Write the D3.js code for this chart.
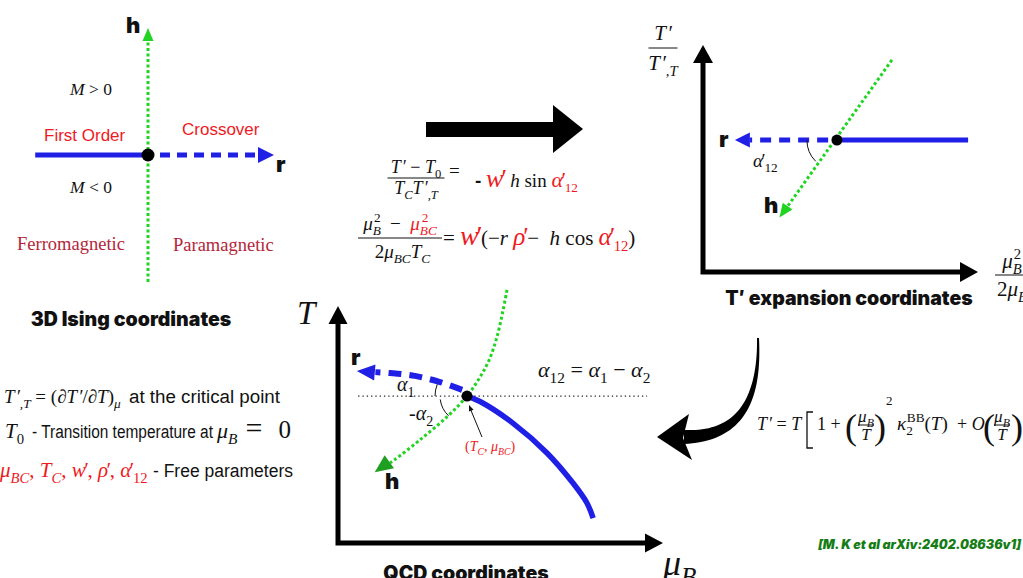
<!DOCTYPE html>
<html><head><meta charset="utf-8">
<script src="https://cdn.jsdelivr.net/npm/d3@7"></script>
<style>html,body{margin:0;padding:0;background:#fff;overflow:hidden} text{white-space:pre}</style>
</head><body><svg id="c" width="1023" height="578"></svg>
<script>
// ---------- 3D Ising plane (r, h) ----------
const isingFirstOrder = [[-0.94, 0], [0, 0]];
const isingCrossover = [[0.1, 0], [0.93, 0]];
const isingCrossoverTip = [1.05, 0];
const isingField = [[0, -1], [0, 0.92]];
const isingFieldTip = [0, 1.0];
const isingCritical = [0, 0];

// ---------- T' expansion plane ----------
const tpCritical = [0.487, 0.581];
const tpFirstOrder = [[0.487, 0.581], [0.964, 0.581]];
const tpCrossover = [[0.455, 0.581], [0.17, 0.581]];
const tpCrossoverTip = [0.116, 0.581];
const tpField = [[0.687, 0.934], [0.305, 0.285]];
const tpFieldTip = [0.278, 0.24];

// ---------- QCD plane (mu_B, T) ----------
const qcdCritical = [0.397, 0.62];
const qcdFirstOrder = [[0.397, 0.62], [0.437, 0.597], [0.538, 0.506], [0.643, 0.38], [0.723, 0.253], [0.766, 0.169], [0.785, 0.105]];
const qcdCrossover = [[0.382, 0.646], [0.314, 0.679], [0.237, 0.705], [0.16, 0.717], [0.115, 0.721]];
const qcdCrossoverTip = [0.058, 0.726];
const qcdField = [[0.52, 1.068], [0.508, 0.983], [0.489, 0.869], [0.465, 0.772], [0.437, 0.7], [0.397, 0.62], [0.335, 0.532], [0.252, 0.435], [0.175, 0.352], [0.16, 0.338]];
const qcdFieldTip = [0.113, 0.298];
const qcdCriticalLevel = [[0.062, 0.62], [0.951, 0.62]];

// ---------- styles ----------
const SERIF = "'Liberation Serif','Times New Roman',serif";
const SANS = "'Liberation Sans',Arial,sans-serif";
const HEAVY = "Inter,'Liberation Sans',sans-serif";
const RED = "#f0191e";
const BLUE = "#1f1fe6";
const GREEN = "#22d422";
const DARKGREEN = "#1f9f1f";

const svg = d3.select("#c");

// ---------- helpers ----------
const it = (t, o = {}) => Object.assign({ t, i: 1 }, o);
const sub = (t, o = {}) => Object.assign({ t, i: 1, sub: 1 }, o);
const sup = (t, o = {}) => Object.assign({ t, sup: 1 }, o);

function math(g, x, y, parts, o = {}) {
  const fs = o.size || 18;
  const t = g.append("text").attr("x", x).attr("y", y)
    .attr("font-family", o.family || SERIF).attr("font-size", fs)
    .attr("text-anchor", o.anchor || "start").attr("fill", o.fill || "#111");
  // split trailing primes so they sit tight against their letter
  const flat = [];
  parts.forEach(p => {
    if (typeof p === "string") p = { t: p };
    if (p.t.length > 1 && p.t.endsWith("′")) {
      const base = p.t.slice(0, -1), sz = p.size || fs;
      flat.push(Object.assign({}, p, { t: base }));
      flat.push(Object.assign({}, p, { t: "′", dx: base === "T" ? sz * 0.06 : -sz * 0.14 }));
    } else flat.push(p);
  });
  let shift = 0;
  flat.forEach(p => {
    const size = p.size || ((p.sub || p.sup) ? fs * 0.7 : fs);
    const target = p.sub ? fs * 0.28 : p.sup ? -fs * 0.42 : 0;
    const ts = t.append("tspan").text(p.t).attr("font-size", size);
    if (target - shift !== 0) ts.attr("dy", target - shift);
    shift = target;
    if (p.i) ts.attr("font-style", "italic");
    if (p.c) ts.attr("fill", p.c);
    if (p.dx) ts.attr("dx", p.dx);
    if (p.f) ts.attr("font-family", p.f);
    if (p.w) ts.attr("font-weight", p.w);
  });
  return t;
}

function frac(g, cx, ly, num, den, o = {}) {
  const fs = o.size || 18;
  math(g, cx, ly - (o.up || 5), num, { size: fs, anchor: "middle" });
  g.append("line").attr("x1", cx - o.w / 2).attr("x2", cx + o.w / 2)
    .attr("y1", ly).attr("y2", ly).attr("stroke", "#111").attr("stroke-width", 1);
  math(g, cx, ly + (o.down || 16), den, { size: fs, anchor: "middle" });
}

function arrowHead(g, tip, from, len, half, fill) {
  const dx = tip[0] - from[0], dy = tip[1] - from[1];
  const L = Math.hypot(dx, dy), ux = dx / L, uy = dy / L;
  const bx = tip[0] - ux * len, by = tip[1] - uy * len;
  const pts = [tip, [bx - uy * half, by + ux * half], [bx + uy * half, by - ux * half]];
  g.append("path").attr("d", d3.line()(pts) + "Z").attr("fill", fill);
}

function label(g, x, y, text, o = {}) {
  const t = g.append("text").attr("x", x).attr("y", y).text(text)
    .attr("font-family", o.family || SANS).attr("font-size", o.size || 17)
    .attr("font-weight", o.weight || 400).attr("font-style", o.style || "normal")
    .attr("fill", o.fill || "#111").attr("text-anchor", o.anchor || "start");
  if (o.len) t.attr("textLength", o.len).attr("lengthAdjust", "spacingAndGlyphs");
  return t;
}

// ======================= Panel 1: 3D Ising =======================
{
  const g = svg.append("g");
  const x = d3.scaleLinear().domain([-1, 1]).range([28, 268]);
  const y = d3.scaleLinear().domain([-1, 1]).range([282, 28]);
  const line = d3.line().x(d => x(d[0])).y(d => y(d[1]));

  g.append("path").attr("d", line(isingField)).attr("fill", "none")
    .attr("stroke", GREEN).attr("stroke-width", 3).attr("stroke-dasharray", "3,2.5");
  arrowHead(g, [x(isingFieldTip[0]), y(isingFieldTip[1])], [x(0), y(0)], 13, 5.5, GREEN);

  g.append("path").attr("d", line(isingFirstOrder)).attr("fill", "none")
    .attr("stroke", BLUE).attr("stroke-width", 5);
  g.append("path").attr("d", line(isingCrossover)).attr("fill", "none")
    .attr("stroke", BLUE).attr("stroke-width", 5).attr("stroke-dasharray", "10,7");
  arrowHead(g, [x(isingCrossoverTip[0]), y(0)], [x(0), y(0)], 16, 8, BLUE);

  g.append("circle").attr("cx", x(isingCritical[0])).attr("cy", y(isingCritical[1]))
    .attr("r", 6.5).attr("fill", "#000");

  label(g, 126, 33, "h", { family: HEAVY, weight: 900, size: 22 });
  label(g, 276, 172, "r", { family: HEAVY, weight: 900, size: 22 });
  math(g, 70, 95, [it("M"), " > 0"], { size: 17.5 });
  math(g, 70, 193, [it("M"), " < 0"], { size: 17.5 });
  label(g, 44, 141, "First Order", { fill: RED, size: 17 });
  label(g, 182, 135, "Crossover", { fill: RED, size: 17 });
  label(g, 17, 250, "Ferromagnetic", { family: SERIF, fill: "#b3263a", size: 18.5 });
  label(g, 173, 251, "Paramagnetic", { family: SERIF, fill: "#b3263a", size: 18.5 });
  label(g, 131, 326, "3D Ising coordinates", { family: HEAVY, weight: 900, size: 19.5, anchor: "middle" });
}

// ======================= Mapping arrow + formulas =======================
{
  const g = svg.append("g");
  g.append("path").attr("d", d3.line()([[426, 122], [553, 122], [553, 105], [583, 129], [553, 153], [553, 137], [426, 137]]) + "Z")
    .attr("fill", "#000");

  frac(g, 416, 178, [it("T′"), " − ", it("T"), sub("0", { i: 0 })],
    [it("T"), sub("C"), it("T′"), sub(",T")], { size: 18, w: 57, up: 5, down: 16 });
  math(g, 449, 177, ["="], { size: 19 });
  math(g, 475, 187, [{ t: "-", f: SANS, w: 800 }, " ", it("w′", { c: RED, size: 26 }), " ", it("h"), " sin ",
    it("α′", { c: RED, size: 22 }), sub("12", { i: 0, c: RED })], { size: 19 });

  frac(g, 400, 238,
    [it("μ"), sub("B"), sup("2", { dx: -7 }), "  −  ", it("μ", { c: RED }), sub("BC", { c: RED }), sup("2", { dx: -15, c: RED })],
    [" 2", it("μ"), sub("BC"), it("T"), sub("C")], { size: 19, w: 84, up: 8, down: 20 });
  math(g, 443, 245, ["= ", it("w′", { c: RED, size: 28 }), "(−", it("r"), " ", it("ρ′", { c: RED, size: 25 }), "−  ",
    it("h"), " cos ", it("α′", { c: RED, size: 25 }), sub("12", { i: 0, c: RED }), ")"], { size: 21 });
}

// ======================= Panel 2: T' expansion =======================
{
  const g = svg.append("g");
  const x = d3.scaleLinear().domain([0, 1]).range([703, 978]);
  const y = d3.scaleLinear().domain([0, 1]).range([272, 45]);
  const line = d3.line().x(d => x(d[0])).y(d => y(d[1]));

  // axes
  g.append("path").attr("d", line([[0, 0.93], [0, 0], [0.94, 0]])).attr("fill", "none")
    .attr("stroke", "#000").attr("stroke-width", 5);
  arrowHead(g, [x(0), y(1)], [x(0), y(0)], 18, 10, "#000");
  arrowHead(g, [x(1), y(0)], [x(0), y(0)], 18, 10, "#000");

  g.append("path").attr("d", line(tpFirstOrder)).attr("fill", "none").attr("stroke", BLUE).attr("stroke-width", 5);
  g.append("path").attr("d", line(tpCrossover)).attr("fill", "none").attr("stroke", BLUE)
    .attr("stroke-width", 5).attr("stroke-dasharray", "11,8");
  arrowHead(g, [x(tpCrossoverTip[0]), y(tpCrossoverTip[1])], [x(tpCritical[0]), y(tpCritical[1])], 15, 7.5, BLUE);

  g.append("path").attr("d", line(tpField)).attr("fill", "none").attr("stroke", GREEN)
    .attr("stroke-width", 3).attr("stroke-dasharray", "3,2.5");
  arrowHead(g, [x(tpFieldTip[0]), y(tpFieldTip[1])], [x(tpField[0][0]), y(tpField[0][1])], 14, 6, GREEN);

  const cx = x(tpCritical[0]), cy = y(tpCritical[1]);
  const arc = d3.path(); arc.arc(cx, cy, 30, Math.PI, Math.PI * 0.75, true);
  g.append("path").attr("d", arc.toString()).attr("fill", "none").attr("stroke", "#111").attr("stroke-width", 1);
  g.append("circle").attr("cx", cx).attr("cy", cy).attr("r", 5.5).attr("fill", "#000");

  label(g, 719, 147, "r", { family: HEAVY, weight: 900, size: 22 });
  label(g, 764, 213, "h", { family: HEAVY, weight: 900, size: 22 });
  math(g, 753, 167, [it("α′"), sub("12", { i: 0 })], { size: 19 });

  frac(g, 663, 48, [it("T′")], [it("T′"), sub(",T")], { size: 21, w: 29, up: 8, down: 22 });
  frac(g, 1012, 275, [it("μ"), sub("B"), sup("2", { dx: -8 })], ["2", it("μ"), sub("B")], { size: 21, w: 34, up: 7, down: 21 });
  label(g, 849, 305, "T′ expansion coordinates", { family: HEAVY, weight: 900, size: 19.5, anchor: "middle" });
}

// ======================= Curved arrow + T' definition =======================
{
  const g = svg.append("g");
  const p0 = [758, 338], p1 = [760, 400], p2 = [740, 437], p3 = [684, 437];
  const bez = t => {
    const u = 1 - t;
    return [u * u * u * p0[0] + 3 * u * u * t * p1[0] + 3 * u * t * t * p2[0] + t * t * t * p3[0],
      u * u * u * p0[1] + 3 * u * u * t * p1[1] + 3 * u * t * t * p2[1] + t * t * t * p3[1]];
  };
  const left = [], right = [];
  d3.range(0, 41).forEach(i => {
    const t = i / 40, a = bez(Math.max(0, t - 0.01)), b = bez(Math.min(1, t + 0.01)), p = bez(t);
    const dx = b[0] - a[0], dy = b[1] - a[1], L = Math.hypot(dx, dy);
    const nx = -dy / L, ny = dx / L, w = 2 + 12 * Math.pow(t, 1.2);
    left.push([p[0] + nx * w / 2, p[1] + ny * w / 2]);
    right.push([p[0] - nx * w / 2, p[1] - ny * w / 2]);
  });
  g.append("path").attr("d", d3.line()(left.concat(right.reverse())) + "Z").attr("fill", "#000");
  g.append("path").attr("d", d3.line()([[657, 437], [689, 414], [683, 438], [692, 460]]) + "Z").attr("fill", "#000");

  math(g, 757, 430, [it("T′"), " = ", it("T")], { size: 18 });
  // tall bracket
  g.append("path").attr("d", d3.line()([[813, 412], [807, 412], [807, 448], [813, 448]]))
    .attr("fill", "none").attr("stroke", "#111").attr("stroke-width", 1.3);
  math(g, 817, 430, ["1 + "], { size: 18 });
  label(g, 845, 439, "(", { family: SERIF, size: 36 });
  frac(g, 866, 425, [it("μ"), sub("B")], [it("T")], { size: 17, w: 16, up: 3, down: 15 });
  label(g, 874, 439, ")", { family: SERIF, size: 36 });
  math(g, 886, 405, ["2"], { size: 13 });
  math(g, 897, 430, [it("κ"), sub("2", { i: 0 }), sup("BB", { dx: -6 }), "(", it("T"), ")"], { size: 19 });
  math(g, 957, 430, ["+ ", it("O")], { size: 18 });
  label(g, 983, 439, "(", { family: SERIF, size: 36 });
  frac(g, 1002, 425, [it("μ"), sub("B")], [it("T")], { size: 17, w: 16, up: 3, down: 15 });
  label(g, 1011, 439, ")", { family: SERIF, size: 36 });
}

// ======================= Parameter notes =======================
{
  const g = svg.append("g");
  math(g, 4, 403, [it("T′"), sub(",T"), " = (∂", it("T′"), "/∂", it("T"), ")", sub("μ")], { size: 19 });
  label(g, 129, 403, "at the critical point", { size: 18, len: 151 });
  math(g, 5, 438, [it("T"), sub("0", { i: 0 })], { size: 21 });
  label(g, 32, 438, "- Transition temperature at", { size: 18, len: 181 });
  math(g, 217, 438, [it("μ"), sub("B"), { t: "=", dx: 8, size: 30 }, { t: "0", dx: 16, size: 25 }], { size: 22 });
  math(g, 0, 477, [it("μ"), sub("BC"), ", ", it("T"), sub("C"), ", ", it("w′"), ", ", it("ρ′"), ", ",
    it("α′"), sub("12", { i: 0 })], { size: 21, fill: RED });
  label(g, 153, 477, "- Free parameters", { size: 18, len: 140 });
}

// ======================= Panel 3: QCD plane =======================
{
  const g = svg.append("g");
  const x = d3.scaleLinear().domain([0, 1]).range([338, 663]);
  const y = d3.scaleLinear().domain([0, 1]).range([543, 306]);
  const line = d3.line().x(d => x(d[0])).y(d => y(d[1]));
  const curve = d3.line().x(d => x(d[0])).y(d => y(d[1])).curve(d3.curveCatmullRom);

  g.append("path").attr("d", line([[0, 0.93], [0, 0], [0.95, 0]])).attr("fill", "none")
    .attr("stroke", "#000").attr("stroke-width", 5);
  arrowHead(g, [x(0), y(1)], [x(0), y(0)], 18, 9.5, "#000");
  arrowHead(g, [x(1), y(0)], [x(0), y(0)], 18, 9.5, "#000");

  g.append("path").attr("d", line(qcdCriticalLevel)).attr("fill", "none").attr("stroke", "#222")
    .attr("stroke-width", 1.3).attr("stroke-dasharray", "1.3,3");

  g.append("path").attr("d", curve(qcdFirstOrder)).attr("fill", "none").attr("stroke", BLUE).attr("stroke-width", 5.5);
  g.append("path").attr("d", curve(qcdCrossover)).attr("fill", "none").attr("stroke", BLUE)
    .attr("stroke-width", 6).attr("stroke-dasharray", "13,8");
  arrowHead(g, [x(qcdCrossoverTip[0]), y(qcdCrossoverTip[1])], [x(qcdCrossover[2][0]), y(qcdCrossover[2][1])], 18, 8, BLUE);

  g.append("path").attr("d", curve(qcdField)).attr("fill", "none").attr("stroke", GREEN)
    .attr("stroke-width", 3).attr("stroke-dasharray", "3,2.5");
  arrowHead(g, [x(qcdFieldTip[0]), y(qcdFieldTip[1])], [x(qcdField[7][0]), y(qcdField[7][1])], 18, 8, DARKGREEN);

  const cx = x(qcdCritical[0]), cy = y(qcdCritical[1]);
  const a1 = d3.path(); a1.arc(cx, cy, 32, Math.PI, Math.PI * 1.12);
  const a2 = d3.path(); a2.arc(cx, cy, 27, Math.PI * 0.96, Math.PI * 0.74, true);
  g.append("path").attr("d", a1.toString()).attr("fill", "none").attr("stroke", "#111").attr("stroke-width", 1);
  g.append("path").attr("d", a2.toString()).attr("fill", "none").attr("stroke", "#111").attr("stroke-width", 1);
  g.append("circle").attr("cx", cx).attr("cy", cy).attr("r", 5.5).attr("fill", "#000");

  // pointer to the critical point
  g.append("line").attr("x1", 482).attr("y1", 437).attr("x2", cx + 3).attr("y2", cy + 12)
    .attr("stroke", "#111").attr("stroke-width", 1);
  arrowHead(g, [cx + 2, cy + 9], [482, 437], 6, 2.5, "#111");

  label(g, 351, 365, "r", { family: HEAVY, weight: 900, size: 22 });
  label(g, 385, 489, "h", { family: HEAVY, weight: 900, size: 22 });
  math(g, 397, 391, [it("α"), sub("1", { i: 0 })], { size: 20 });
  math(g, 409, 420, ["-", it("α"), sub("2", { i: 0 })], { size: 20 });
  math(g, 465, 451, ["(", it("T"), sub("C"), ", ", it("μ"), sub("BC"), ")"], { size: 14, fill: RED });
  math(g, 538, 377, [it("α"), sub("12", { i: 0 }), " = ", it("α"), sub("1", { i: 0 }), " − ", it("α"), sub("2", { i: 0 })], { size: 22 });

  math(g, 297, 324, [it("T")], { size: 33 });
  math(g, 663, 575, [it("μ"), sub("B")], { size: 36 });
  label(g, 466, 580, "QCD coordinates", { family: HEAVY, weight: 900, size: 19.5, anchor: "middle" });
}

// citation
label(svg, 1021, 549, "[M. K et al arXiv:2402.08636v1]", { family: HEAVY, weight: 900, style: "italic", size: 12.5, fill: "#167d16", anchor: "end" });
</script>
</body></html>
